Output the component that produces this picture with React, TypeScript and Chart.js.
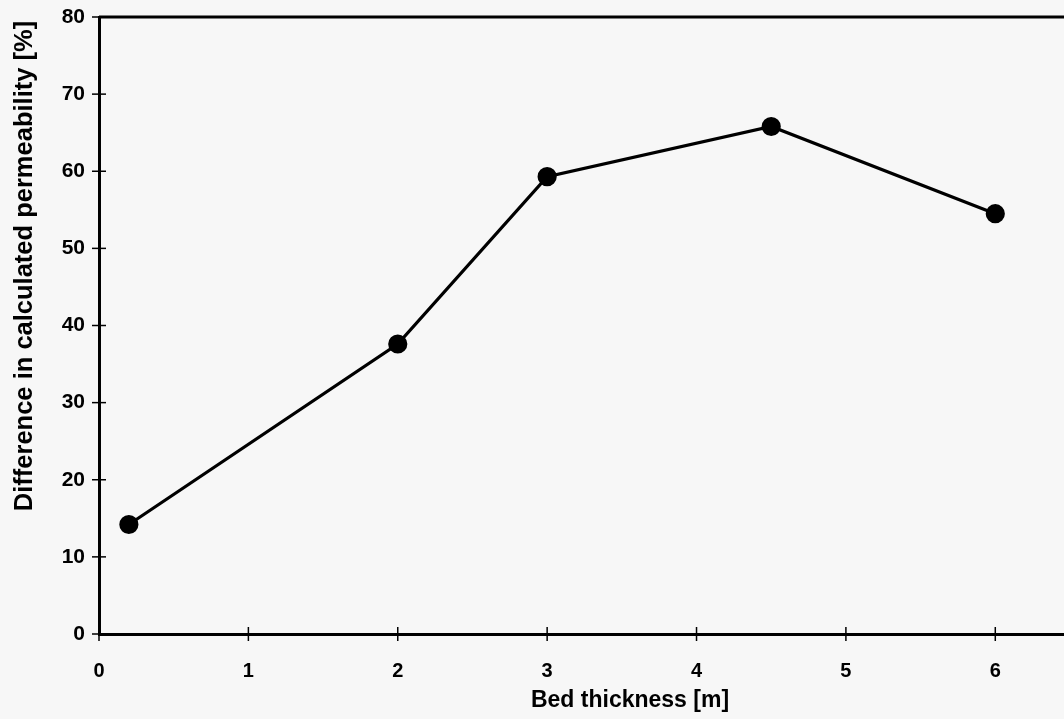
import React, { useEffect, useRef } from "react";
import { Chart, registerables } from "chart.js";

Chart.register(...registerables);

const bedThickness = [0.2, 2, 3, 4.5, 6];
const permeabilityDiff = [14.2, 37.6, 59.3, 65.8, 54.5];
const xTickValues = [0, 1, 2, 3, 4, 5, 6];
const yTickValues = [0, 10, 20, 30, 40, 50, 60, 70, 80];
const xTitle = "Bed thickness [m]";
const yTitle = "Difference in calculated permeability [%]";

const FONT = "'Liberation Sans', Arial, sans-serif";

const zeroPadding = (s: any) => {
  s.paddingTop = 0;
  s.paddingBottom = 0;
  s.paddingLeft = 0;
  s.paddingRight = 0;
};

const decorPlugin = {
  id: "decor",
  beforeDraw(chart: any) {
    const { ctx } = chart;
    ctx.save();
    ctx.fillStyle = "#f7f7f7";
    ctx.fillRect(0, 0, chart.width, chart.height);
    ctx.restore();
  },
  afterDraw(chart: any) {
    const { ctx, chartArea, scales } = chart;
    ctx.save();
    ctx.strokeStyle = "#000";
    ctx.lineWidth = 3;
    // top border
    ctx.beginPath();
    ctx.moveTo(chartArea.left, chartArea.top);
    ctx.lineTo(chart.width, chartArea.top);
    ctx.stroke();
    // crossing tick marks
    ctx.lineWidth = 1.5;
    xTickValues.forEach((v) => {
      const px = scales.x.getPixelForValue(v);
      ctx.beginPath();
      ctx.moveTo(px, chartArea.bottom - 7);
      ctx.lineTo(px, chartArea.bottom + 7);
      ctx.stroke();
    });
    yTickValues.forEach((v) => {
      const py = scales.y.getPixelForValue(v);
      ctx.beginPath();
      ctx.moveTo(chartArea.left - 7, py);
      ctx.lineTo(chartArea.left + 7, py);
      ctx.stroke();
    });
    // axis titles
    ctx.fillStyle = "#000";
    ctx.textAlign = "center";
    ctx.textBaseline = "middle";
    ctx.font = `bold 23px ${FONT}`;
    ctx.fillText(xTitle, 630, 701);
    ctx.translate(25, 266);
    ctx.rotate(-Math.PI / 2);
    ctx.font = `bold 25.5px ${FONT}`;
    ctx.fillText(yTitle, 0, 0);
    ctx.restore();
  },
};

export default function App() {
  const ref = useRef<HTMLCanvasElement | null>(null);
  useEffect(() => {
    if (!ref.current) return;
    const chart = new Chart(ref.current, {
      type: "line",
      data: {
        datasets: [
          {
            data: bedThickness.map((x, i) => ({ x, y: permeabilityDiff[i] })),
            borderColor: "#000",
            backgroundColor: "#000",
            borderWidth: 3.2,
            pointRadius: 8,
            pointBackgroundColor: "#000",
            pointBorderColor: "#000",
            tension: 0,
            clip: false,
          } as any,
        ],
      },
      options: {
        responsive: false,
        animation: false,
        layout: { autoPadding: false, padding: { top: 17, right: 0, left: 0, bottom: 0 } },
        plugins: { legend: { display: false }, tooltip: { enabled: false } },
        scales: {
          x: {
            type: "linear",
            min: 0,
            max: 6.46,
            afterBuildTicks: (s: any) => {
              s.ticks = xTickValues.map((v) => ({ value: v }));
            },
            afterFit: (s: any) => {
              s.height = 85;
              zeroPadding(s);
            },
            grid: { display: false, drawTicks: false, tickLength: 0 },
            border: { display: true, color: "#000", width: 3 },
            ticks: {
              color: "#000",
              font: { family: FONT, size: 20, weight: "bold" },
              padding: 25,
              maxRotation: 0,
            },
          },
          y: {
            min: 0,
            max: 80,
            afterBuildTicks: (s: any) => {
              s.ticks = yTickValues.map((v) => ({ value: v }));
            },
            afterFit: (s: any) => {
              s.width = 99;
              zeroPadding(s);
            },
            grid: { display: false, drawTicks: false, tickLength: 0 },
            border: { display: true, color: "#000", width: 3 },
            ticks: {
              color: "#000",
              font: { family: FONT, size: 21, weight: "bold" },
              padding: 14,
            },
          },
        },
      },
      plugins: [decorPlugin],
    });
    return () => chart.destroy();
  }, []);
  return (
    <div style={{ position: "fixed", left: 0, top: 0, width: 1064, height: 719, background: "#f7f7f7" }}>
      <canvas ref={ref} width={1064} height={719} style={{ display: "block" }} />
    </div>
  );
}
